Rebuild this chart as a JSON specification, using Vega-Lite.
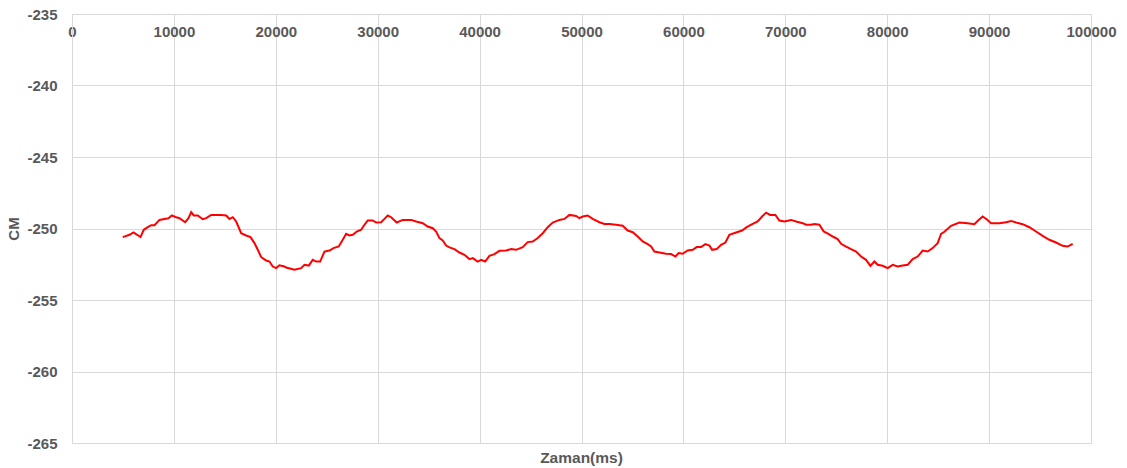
{
  "$schema": "https://vega.github.io/schema/vega-lite/v6.json",
  "width": 1019,
  "height": 429,
  "autosize": {"type": "none"},
  "padding": {"left": 72, "top": 14, "right": 36, "bottom": 25},
  "background": "white",
  "title": {"text": "Zaman(ms)", "orient": "bottom", "anchor": "middle", "font": "Liberation Sans", "fontSize": 15.5, "fontWeight": "bold", "color": "#595959", "offset": 0},
  "config": {"view": {"stroke": null}},
  "data": {"values": [
    {"t": 4985, "cm": -250.60}, {"t": 5642, "cm": -250.44}, {"t": 6034, "cm": -250.28}, {"t": 6397, "cm": -250.44},
    {"t": 6721, "cm": -250.60}, {"t": 7045, "cm": -250.09}, {"t": 7437, "cm": -249.91}, {"t": 7771, "cm": -249.77},
    {"t": 8095, "cm": -249.77}, {"t": 8586, "cm": -249.40}, {"t": 9076, "cm": -249.33}, {"t": 9469, "cm": -249.28},
    {"t": 9792, "cm": -249.09}, {"t": 10224, "cm": -249.21}, {"t": 10548, "cm": -249.28}, {"t": 11107, "cm": -249.56},
    {"t": 11431, "cm": -249.28}, {"t": 11696, "cm": -248.86}, {"t": 11951, "cm": -249.09}, {"t": 12343, "cm": -249.09},
    {"t": 12834, "cm": -249.35}, {"t": 13168, "cm": -249.28}, {"t": 13658, "cm": -249.05}, {"t": 14640, "cm": -249.05},
    {"t": 15130, "cm": -249.09}, {"t": 15454, "cm": -249.33}, {"t": 15778, "cm": -249.21}, {"t": 16111, "cm": -249.51},
    {"t": 16602, "cm": -250.33}, {"t": 17092, "cm": -250.49}, {"t": 17514, "cm": -250.60}, {"t": 17907, "cm": -251.02},
    {"t": 18231, "cm": -251.49}, {"t": 18564, "cm": -252.00}, {"t": 19055, "cm": -252.24}, {"t": 19379, "cm": -252.31},
    {"t": 19702, "cm": -252.66}, {"t": 20036, "cm": -252.77}, {"t": 20360, "cm": -252.57}, {"t": 20851, "cm": -252.66},
    {"t": 21017, "cm": -252.73}, {"t": 21832, "cm": -252.89}, {"t": 22489, "cm": -252.77}, {"t": 22813, "cm": -252.54},
    {"t": 23235, "cm": -252.59}, {"t": 23627, "cm": -252.19}, {"t": 23961, "cm": -252.31}, {"t": 24353, "cm": -252.31},
    {"t": 24775, "cm": -251.61}, {"t": 25266, "cm": -251.54}, {"t": 25658, "cm": -251.37}, {"t": 26178, "cm": -251.26},
    {"t": 26571, "cm": -250.79}, {"t": 26904, "cm": -250.37}, {"t": 27228, "cm": -250.49}, {"t": 27552, "cm": -250.44},
    {"t": 27944, "cm": -250.21}, {"t": 28376, "cm": -250.09}, {"t": 28700, "cm": -249.74}, {"t": 29024, "cm": -249.44},
    {"t": 29514, "cm": -249.44}, {"t": 29848, "cm": -249.58}, {"t": 30339, "cm": -249.56}, {"t": 30663, "cm": -249.33},
    {"t": 30986, "cm": -249.09}, {"t": 31320, "cm": -249.21}, {"t": 31869, "cm": -249.58}, {"t": 32458, "cm": -249.40},
    {"t": 33282, "cm": -249.40}, {"t": 33773, "cm": -249.51}, {"t": 34420, "cm": -249.63}, {"t": 34911, "cm": -249.86},
    {"t": 35402, "cm": -249.98}, {"t": 35735, "cm": -250.21}, {"t": 36059, "cm": -250.67}, {"t": 36383, "cm": -250.84},
    {"t": 36716, "cm": -251.19}, {"t": 37040, "cm": -251.32}, {"t": 37531, "cm": -251.44}, {"t": 38022, "cm": -251.68},
    {"t": 38512, "cm": -251.84}, {"t": 39003, "cm": -252.14}, {"t": 39326, "cm": -252.07}, {"t": 39817, "cm": -252.31},
    {"t": 40151, "cm": -252.19}, {"t": 40543, "cm": -252.31}, {"t": 40965, "cm": -251.91}, {"t": 41456, "cm": -251.79},
    {"t": 41946, "cm": -251.56}, {"t": 42604, "cm": -251.54}, {"t": 43094, "cm": -251.44}, {"t": 43585, "cm": -251.49},
    {"t": 44232, "cm": -251.30}, {"t": 44723, "cm": -250.95}, {"t": 45214, "cm": -250.91}, {"t": 45704, "cm": -250.67},
    {"t": 46195, "cm": -250.33}, {"t": 46685, "cm": -249.91}, {"t": 47176, "cm": -249.58}, {"t": 47834, "cm": -249.40},
    {"t": 48324, "cm": -249.33}, {"t": 48815, "cm": -249.05}, {"t": 49472, "cm": -249.12}, {"t": 49796, "cm": -249.28},
    {"t": 50120, "cm": -249.16}, {"t": 50610, "cm": -249.09}, {"t": 51101, "cm": -249.33}, {"t": 51759, "cm": -249.56},
    {"t": 52249, "cm": -249.68}, {"t": 52740, "cm": -249.68}, {"t": 53397, "cm": -249.74}, {"t": 54044, "cm": -249.81},
    {"t": 54535, "cm": -250.14}, {"t": 55026, "cm": -250.26}, {"t": 55516, "cm": -250.56}, {"t": 56007, "cm": -250.91},
    {"t": 56497, "cm": -251.09}, {"t": 56831, "cm": -251.26}, {"t": 57155, "cm": -251.61}, {"t": 57646, "cm": -251.68},
    {"t": 58303, "cm": -251.77}, {"t": 58793, "cm": -251.79}, {"t": 59215, "cm": -251.96}, {"t": 59539, "cm": -251.72},
    {"t": 59932, "cm": -251.77}, {"t": 60422, "cm": -251.54}, {"t": 60913, "cm": -251.49}, {"t": 61305, "cm": -251.30},
    {"t": 61737, "cm": -251.30}, {"t": 62159, "cm": -251.09}, {"t": 62552, "cm": -251.19}, {"t": 62816, "cm": -251.49},
    {"t": 63268, "cm": -251.44}, {"t": 63699, "cm": -251.14}, {"t": 64121, "cm": -250.98}, {"t": 64514, "cm": -250.44},
    {"t": 65171, "cm": -250.28}, {"t": 65760, "cm": -250.14}, {"t": 66211, "cm": -249.91}, {"t": 66800, "cm": -249.68},
    {"t": 67290, "cm": -249.51}, {"t": 67722, "cm": -249.16}, {"t": 68115, "cm": -248.89}, {"t": 68507, "cm": -249.05},
    {"t": 69027, "cm": -249.05}, {"t": 69420, "cm": -249.44}, {"t": 69910, "cm": -249.51}, {"t": 70567, "cm": -249.40},
    {"t": 71058, "cm": -249.51}, {"t": 71706, "cm": -249.63}, {"t": 72039, "cm": -249.74}, {"t": 72530, "cm": -249.74},
    {"t": 72854, "cm": -249.68}, {"t": 73344, "cm": -249.74}, {"t": 73767, "cm": -250.21}, {"t": 74228, "cm": -250.37},
    {"t": 74650, "cm": -250.56}, {"t": 75140, "cm": -250.74}, {"t": 75474, "cm": -251.07}, {"t": 75964, "cm": -251.26},
    {"t": 76455, "cm": -251.44}, {"t": 76946, "cm": -251.61}, {"t": 77436, "cm": -251.96}, {"t": 77927, "cm": -252.19},
    {"t": 78349, "cm": -252.61}, {"t": 78741, "cm": -252.31}, {"t": 79065, "cm": -252.54}, {"t": 79556, "cm": -252.61},
    {"t": 80046, "cm": -252.77}, {"t": 80537, "cm": -252.54}, {"t": 81028, "cm": -252.66}, {"t": 81518, "cm": -252.59},
    {"t": 82009, "cm": -252.54}, {"t": 82499, "cm": -252.14}, {"t": 82990, "cm": -251.96}, {"t": 83481, "cm": -251.54},
    {"t": 83971, "cm": -251.61}, {"t": 84462, "cm": -251.37}, {"t": 84952, "cm": -251.02}, {"t": 85286, "cm": -250.38},
    {"t": 85610, "cm": -250.23}, {"t": 86267, "cm": -249.81}, {"t": 87082, "cm": -249.58}, {"t": 87896, "cm": -249.63},
    {"t": 88552, "cm": -249.70}, {"t": 88975, "cm": -249.40}, {"t": 89367, "cm": -249.16}, {"t": 89760, "cm": -249.35},
    {"t": 90192, "cm": -249.63}, {"t": 91006, "cm": -249.63}, {"t": 91664, "cm": -249.56}, {"t": 92154, "cm": -249.47},
    {"t": 92645, "cm": -249.58}, {"t": 93292, "cm": -249.70}, {"t": 93950, "cm": -249.91}, {"t": 94607, "cm": -250.21},
    {"t": 95255, "cm": -250.51}, {"t": 95912, "cm": -250.79}, {"t": 96570, "cm": -250.98}, {"t": 97217, "cm": -251.21},
    {"t": 97708, "cm": -251.26}, {"t": 98199, "cm": -251.07}
  ]},
  "mark": {"type": "line", "color": "#ff0000", "strokeWidth": 2, "interpolate": "linear"},
  "encoding": {
    "x": {
      "field": "t", "type": "quantitative",
      "scale": {"domain": [0, 100000], "nice": false, "zero": false},
      "axis": {
        "orient": "top", "title": null, "values": [0, 10000, 20000, 30000, 40000, 50000, 60000, 70000, 80000, 90000, 100000],
        "format": "d", "ticks": false, "labelBaseline": "top", "labelPadding": -10,
        "labelFont": "Liberation Sans", "labelFontSize": 15, "labelFontWeight": "bold", "labelColor": "#595959",
        "labelFlush": false, "labelOverlap": false,
        "domain": true, "domainColor": "#d9d9d9", "domainWidth": 1,
        "grid": true, "gridColor": "#d9d9d9", "gridWidth": 1
      }
    },
    "y": {
      "field": "cm", "type": "quantitative",
      "scale": {"domain": [-265, -235], "nice": false, "zero": false},
      "axis": {
        "title": "CM", "titleFont": "Liberation Sans", "titleFontSize": 15, "titleFontWeight": "bold", "titleColor": "#595959", "titlePadding": 5,
        "values": [-265, -260, -255, -250, -245, -240, -235],
        "labelExpr": "'-' + abs(datum.value)",
        "ticks": false, "labelPadding": 15,
        "labelFont": "Liberation Sans", "labelFontSize": 15, "labelFontWeight": "bold", "labelColor": "#595959",
        "labelFlush": false, "labelOverlap": false,
        "domain": true, "domainColor": "#d9d9d9", "domainWidth": 1,
        "grid": true, "gridColor": "#d9d9d9", "gridWidth": 1
      }
    }
  }
}
